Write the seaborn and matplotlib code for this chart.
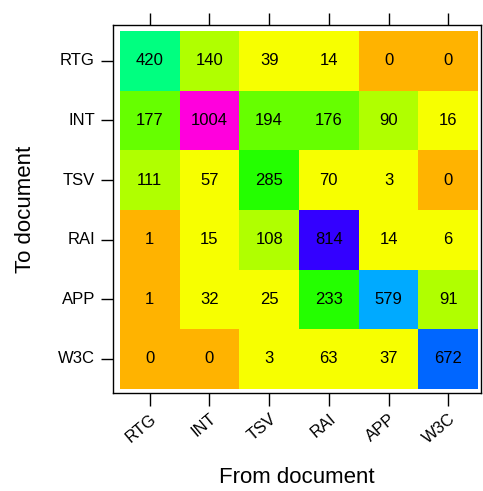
import numpy as np
import pandas as pd
import seaborn as sns
import matplotlib.pyplot as plt
from matplotlib.colors import ListedColormap, BoundaryNorm

docs = ["RTG", "INT", "TSV", "RAI", "APP", "W3C"]

# rows = to document, columns = from document
rtg = [420, 140, 39, 14, 0, 0]
int_ = [177, 1004, 194, 176, 90, 16]
tsv = [111, 57, 285, 70, 3, 0]
rai = [1, 15, 108, 814, 14, 6]
app = [1, 32, 25, 233, 579, 91]
w3c = [0, 0, 3, 63, 37, 672]

counts = pd.DataFrame([rtg, int_, tsv, rai, app, w3c], index=docs, columns=docs)

# binned rainbow colours, as in the original level plot
bins = [0, 2, 80, 150, 200, 300, 500, 620, 750, 900, 1100]
cols = ["#FFB300", "#F7FF00", "#B0FF00", "#66FF00", "#24FF00",
        "#00FF80", "#00AAFF", "#0066FF", "#3300FF", "#FF00DD"]
cmap = ListedColormap(cols)
norm = BoundaryNorm(bins, cmap.N)

plt.rcParams["font.family"] = ["Liberation Sans", "DejaVu Sans"]

fig = plt.figure(figsize=(4.83, 4.91), dpi=100)
ax = fig.add_axes([0.234, 0.1996, 0.762, 0.7495])

sns.heatmap(counts, ax=ax, cmap=cmap, norm=norm, cbar=False, annot=True, fmt="d",
            annot_kws={"color": "black", "fontsize": 12})

ax.set_xlim(-0.115, 6.05)
ax.set_ylim(6.07, -0.1)
for s in ax.spines.values():
    s.set_visible(True)
    s.set_linewidth(1.0)
    s.set_color("black")

ax.tick_params(top=True, bottom=True, left=True, right=False, labeltop=False,
               direction="out", length=9, width=1.0, labelsize=12, pad=4)
ax.set_yticklabels(docs, rotation=0)
ax.set_xticklabels(docs, rotation=40, ha="right", va="top", rotation_mode="anchor")

ax.set_xlabel("From document", fontsize=16, labelpad=15)
ax.set_ylabel("To document", fontsize=16, labelpad=16)

fig.savefig("out.png", dpi=100)
